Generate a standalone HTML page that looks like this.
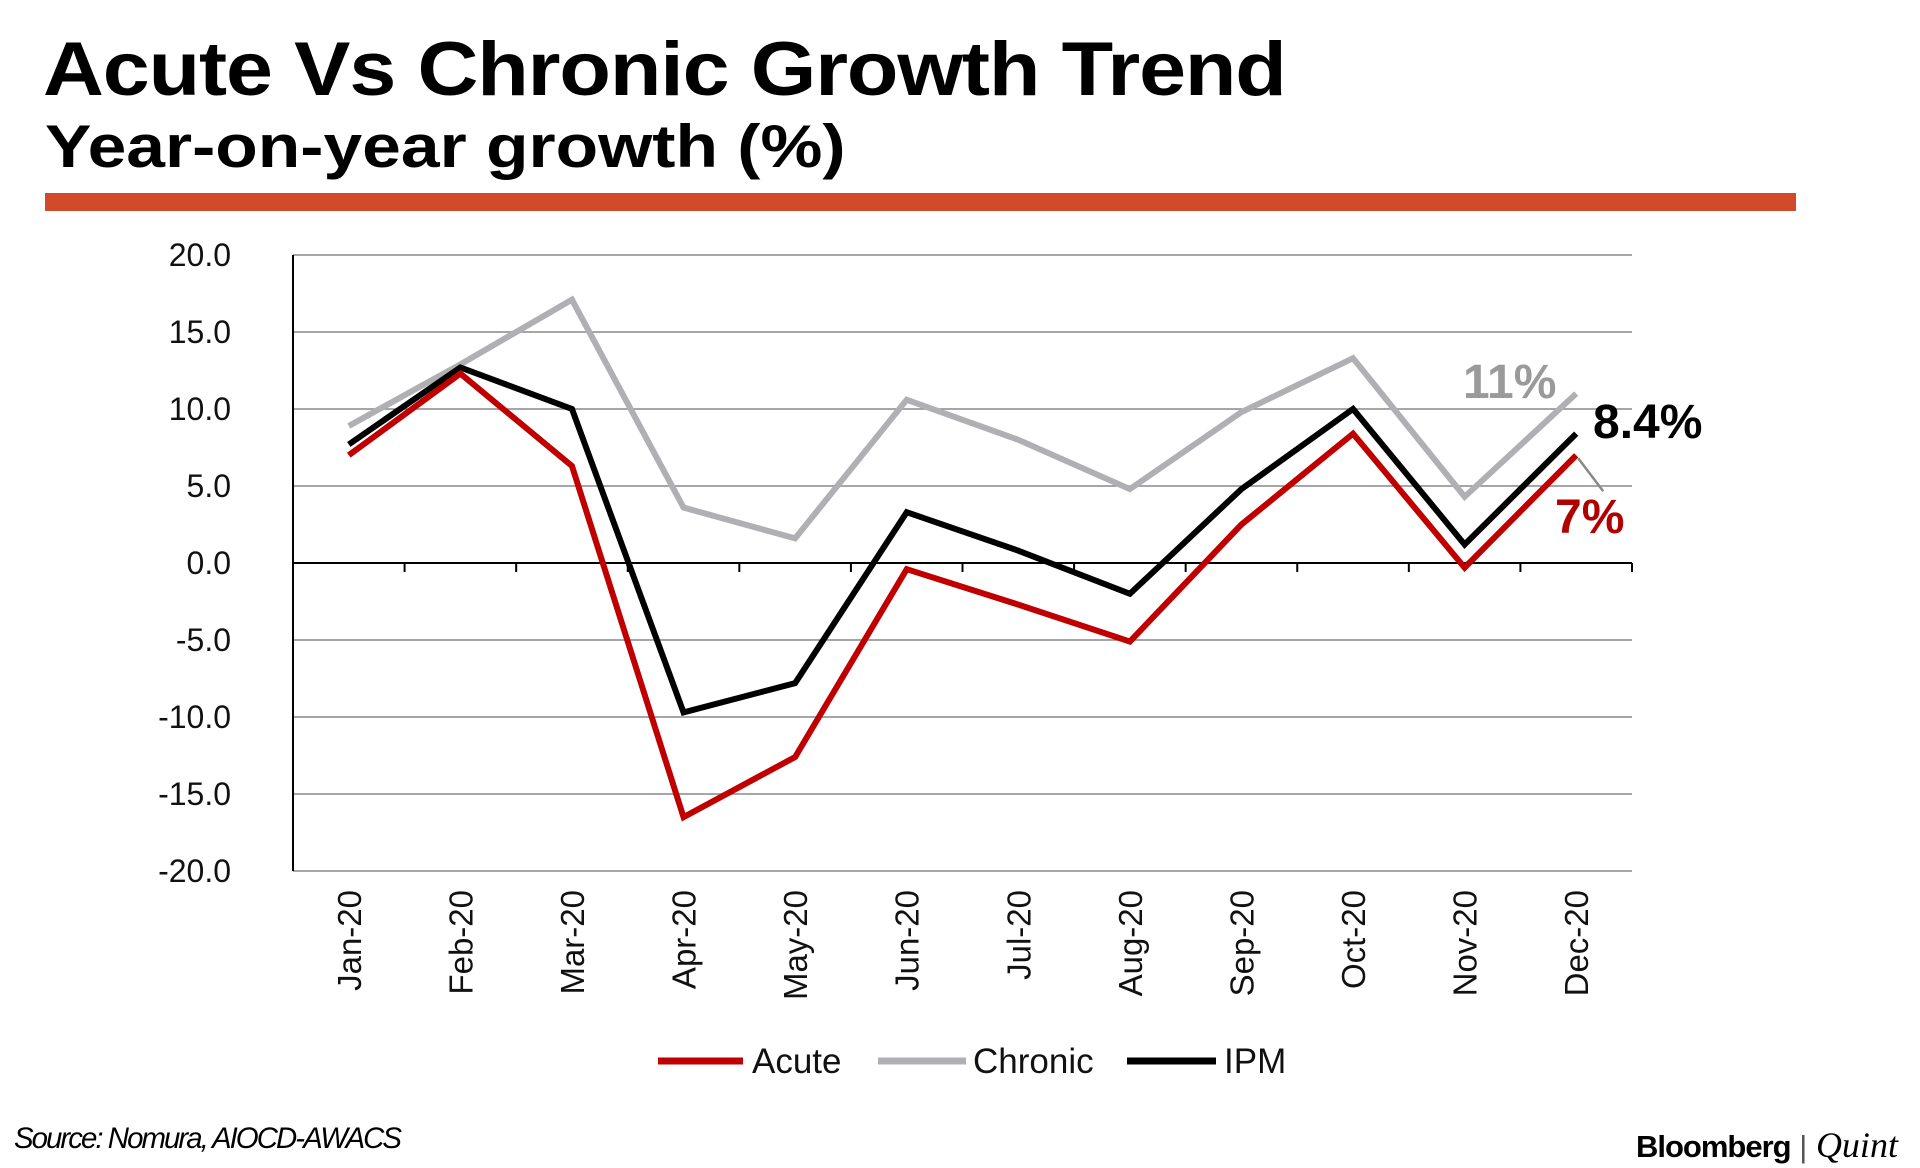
<!DOCTYPE html>
<html><head><meta charset="utf-8"><style>
body{margin:0;width:1920px;height:1168px;background:#fff;overflow:hidden;position:relative;font-family:"Liberation Sans",sans-serif}
.t{position:absolute;white-space:nowrap}
</style></head><body>
<div class="t" style="left:43px;top:26px;font-size:76px;font-weight:bold;letter-spacing:-1px;color:#000;transform:scaleX(1.11);transform-origin:left">Acute Vs Chronic Growth Trend</div>
<div class="t" style="left:45px;top:112px;font-size:60px;font-weight:bold;color:#000;transform:scaleX(1.16);transform-origin:left">Year-on-year growth (%)</div>
<div style="position:absolute;left:45px;top:193px;width:1751px;height:18px;background:#d04a2b"></div>
<svg id="chart" width="1920" height="1168" style="position:absolute;left:0;top:0"></svg>
<div class="t" style="left:14px;top:1122px;font-size:30px;font-style:italic;letter-spacing:-2px;transform:scaleX(0.98);transform-origin:left">Source: Nomura, AIOCD-AWACS</div>
<div class="t" style="left:1636px;top:1124px;font-size:31px"><b style="letter-spacing:-1px">Bloomberg</b> <span style="color:#555">|</span> <i style="font-family:'Liberation Serif',serif;font-size:36px">Quint</i></div>
<script>
const categories=["Jan-20","Feb-20","Mar-20","Apr-20","May-20","Jun-20","Jul-20","Aug-20","Sep-20","Oct-20","Nov-20","Dec-20"];
const acute=[7,12.3,6.3,-16.5,-12.6,-0.4,-2.7,-5.1,2.5,8.4,-0.3,7];
const chronic=[8.9,12.9,17.1,3.6,1.6,10.6,8,4.8,9.8,13.3,4.3,11];
const ipm=[7.7,12.7,10,-9.7,-7.8,3.3,0.8,-2,4.8,10,1.2,8.4];
const yTicks=[20,15,10,5,0,-5,-10,-15,-20];
const seriesNames=["Acute","Chronic","IPM"];
const svg=document.getElementById('chart');
const NS="http://www.w3.org/2000/svg";
const L=293,R=1632,T=255,B=871;
const band=(R-L)/categories.length;
const x=i=>L+band*(i+0.5);
const y=v=>T+(20-v)/40*(B-T);
function mk(tag,attrs){const e=document.createElementNS(NS,tag);for(const k in attrs)e.setAttribute(k,attrs[k]);svg.appendChild(e);return e;}
yTicks.forEach(v=>{
  const g=mk('line',{x1:L,x2:R,y1:y(v),y2:y(v),stroke:v===0?'#000':'#888','stroke-width':v===0?2:1.5});
  
  
  const t=mk('text',{x:231,y:y(v)+11,'text-anchor':'end','font-size':32,fill:'#111','font-family':'Liberation Sans, sans-serif'});
  t.textContent=v.toFixed(1);
  
  
});
const ax=mk('line',{x1:L,x2:L,y1:T,y2:B,stroke:'#000','stroke-width':2});


for(let i=1;i<=categories.length;i++){
  const tk=mk('line',{x1:L+band*i,x2:L+band*i,y1:y(0),y2:y(0)+9,stroke:'#000','stroke-width':2});
  
  
}
categories.forEach((c,i)=>{
  const t=mk('text',{x:0,y:0,'text-anchor':'end','font-size':33,fill:'#111','font-family':'Liberation Sans, sans-serif',transform:`translate(${x(i)+12},890) rotate(-90)`});
  t.textContent=c;
  
  
});
const colors=['#c00000','#b0b0b4','#000'];
const data=[acute,chronic,ipm];
[1,2,0].forEach(k=>{
  const p=mk('polyline',{points:data[k].map((v,i)=>x(i)+','+y(v)).join(' '),fill:'none',stroke:colors[k],'stroke-width':6,'stroke-linejoin':'miter'});
  
  
});
const legX=[[658,743,752],[878,966,973],[1127,1216,1224]];
seriesNames.forEach((n,k)=>{
  const l=mk('line',{x1:legX[k][0],x2:legX[k][1],y1:1061,y2:1061,stroke:colors[k],'stroke-width':7});
  
  
  const t=mk('text',{x:legX[k][2],y:1073,'font-size':35,fill:'#111','font-family':'Liberation Sans, sans-serif'});
  t.textContent=n;
  
  
});
const last=categories.length-1;
const lead=mk('line',{x1:x(last)+2,y1:y(acute[last])+3,x2:x(last)+27,y2:y(acute[last])+36,stroke:'#888','stroke-width':2.5});


const ann=[[chronic[last],1463,398,'#9a9a9a'],[ipm[last],1593,438,'#000'],[acute[last],1555,533,'#b00000']];
ann.forEach(a=>{
  const t=mk('text',{x:a[1],y:a[2],'font-size':48,'font-weight':'bold',fill:a[3],'font-family':'Liberation Sans, sans-serif'});
  t.textContent=(Number.isInteger(a[0])?a[0]:a[0].toFixed(1))+'%';
  
  
});
</script>
</body></html>
